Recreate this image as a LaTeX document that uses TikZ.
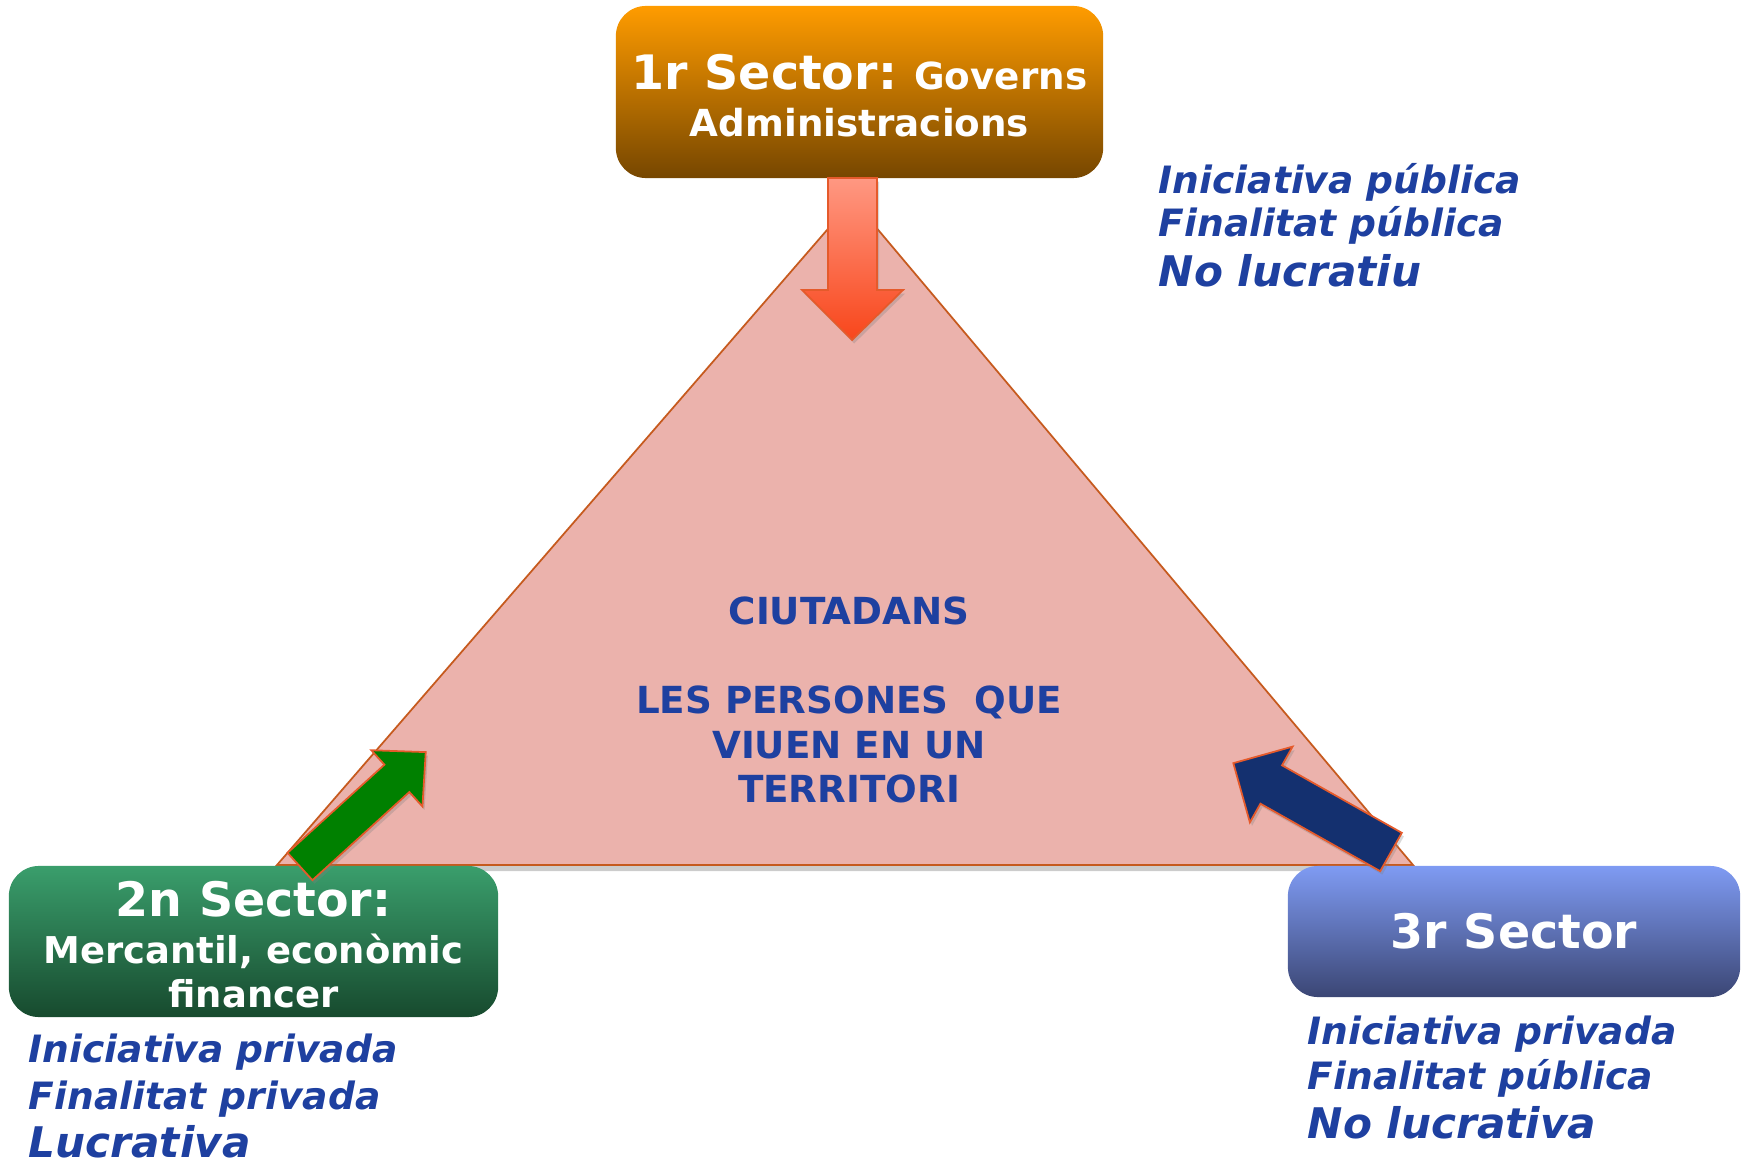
\documentclass[tikz,border=0pt]{standalone}
\usepackage{fontspec}
\setmainfont{DejaVu Sans}
\usetikzlibrary{shadows}
\definecolor{taronja}{HTML}{FF9C00}
\definecolor{marro}{HTML}{764600}
\definecolor{verdclar}{HTML}{3A9E6C}
\definecolor{verdfosc}{HTML}{174A2E}
\definecolor{blauclar}{HTML}{7F9BF3}
\definecolor{blaufosc}{HTML}{3B4674}
\definecolor{rosa}{HTML}{EBB2AC}
\definecolor{vora}{HTML}{C65A1E}
\definecolor{voraf}{HTML}{E55A2B}
\definecolor{salmo}{HTML}{FF9882}
\definecolor{vermell}{HTML}{F8461B}
\definecolor{fletxaverda}{HTML}{008000}
\definecolor{fletxablava}{HTML}{14306F}
\definecolor{textblau}{HTML}{1E40A0}
\tikzset{
  sector/.style={rounded corners=0.3cm, text=white, align=center, inner sep=0pt},
  trets/.style={text=textblau, align=left, anchor=base west, inner sep=0pt},
  fletxa/.style={draw=voraf, line width=0.5pt,
    drop shadow={shadow xshift=0.6pt, shadow yshift=-1pt, opacity=0.3}},
}
\begin{document}
\begin{tikzpicture}[x=0.01cm, y=-0.01cm]
\useasboundingbox (0,0) rectangle (1749,1167);
% triangle
\fill[black!20] (853,206) -- (1413,871) -- (277,871) -- cycle;
\filldraw[fill=rosa, draw=vora, line width=0.5pt] (853,200) -- (1413,865) -- (277,865) -- cycle;
\node[text=textblau, font=\bfseries\fontsize{10.6}{12.7}\selectfont, align=center]
  (ciutadans) at (849,700) {CIUTADANS\\[12.7pt] LES PERSONES\ \ QUE\\ VIUEN EN UN\\ TERRITORI};
% sectors
\node[sector, minimum width=4.87cm, minimum height=1.72cm, top color=taronja, bottom color=marro,
  font=\bfseries\fontsize{10.6}{13.4}\selectfont] (sector1) at (859.5,92)
  {\rule{0pt}{12pt}{\fontsize{13.5}{16}\selectfont 1r Sector:} Governs\\ Administracions};
\node[sector, minimum width=4.89cm, minimum height=1.51cm, top color=verdclar, bottom color=verdfosc,
  font=\bfseries\fontsize{10.5}{12.5}\selectfont] (sector2) at (253.5,941.5)
  {\rule{0pt}{11.6pt}{\fontsize{13.5}{16}\selectfont 2n Sector:}\\[0.9pt] Mercantil, econòmic\\ financer};
\node[sector, minimum width=4.52cm, minimum height=1.31cm, top color=blauclar, bottom color=blaufosc,
  font=\bfseries\fontsize{13.5}{16}\selectfont] (sector3) at (1514,931.5) {3r Sector};
% trets
\node[trets, font=\bfseries\itshape\fontsize{10.7}{12.2}\selectfont] (trets1) at (1158,287)
  {Iniciativa pública\\ Finalitat pública\\[2.3pt] {\fontsize{12}{14}\selectfont No lucratiu}};
\node[trets, font=\bfseries\itshape\fontsize{10.7}{13.4}\selectfont] (trets2) at (28,1157)
  {Iniciativa privada\\ Finalitat privada\\ {\fontsize{12}{14}\selectfont Lucrativa}};
\node[trets, font=\bfseries\itshape\fontsize{10.7}{12.8}\selectfont] (trets3) at (1307,1138)
  {Iniciativa privada\\ Finalitat pública\\[1.1pt] {\fontsize{12}{14}\selectfont No lucrativa}};
% fletxes
\path[fletxa, top color=salmo, bottom color=vermell] (828,178) -- (877,178) -- (877,290) -- (903,290)
  -- (852,340) -- (802,290) -- (828,290) -- cycle;
\begin{scope}[shift={(300,866.5)}, rotate=42.3]
  \filldraw[fletxa, fill=fletxaverda] (0,-18.5) -- (131,-18.5) -- (131,-38) -- (170,0)
    -- (131,38) -- (131,18.5) -- (0,18.5) -- cycle;
\end{scope}
\begin{scope}[shift={(1391,852)}, rotate=150.6]
  \filldraw[fletxa, fill=fletxablava] (0,-22) -- (137.5,-22) -- (137.5,-43.5) -- (181,0)
    -- (137.5,43.5) -- (137.5,22) -- (0,22) -- cycle;
\end{scope}
\end{tikzpicture}
\end{document}
